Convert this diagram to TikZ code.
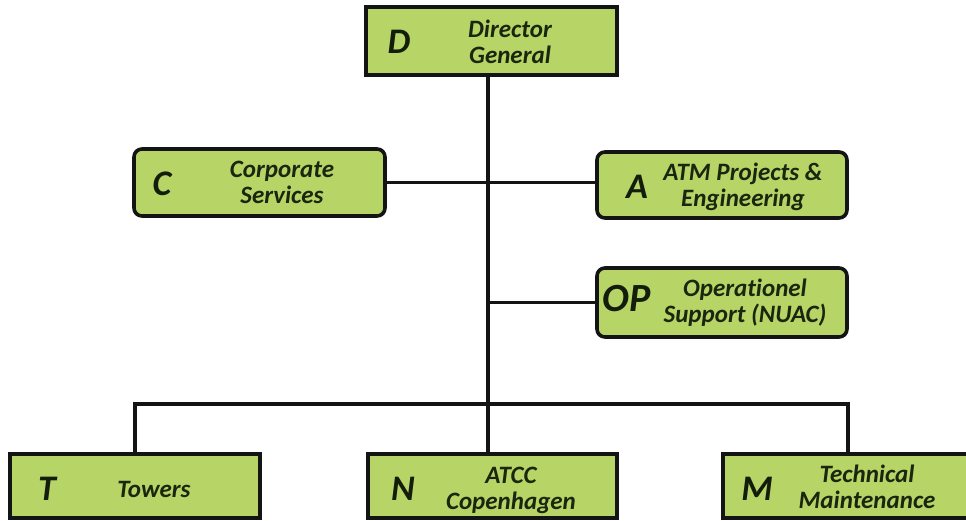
\documentclass[tikz,border=0pt]{standalone}
\usepackage{fontspec}
\setmainfont[Ligatures=NoCommon]{Carlito}
\begin{document}
\begin{tikzpicture}[x=1pt,y=-1pt,
  unitfill/.style={fill={rgb,255:red,182;green,213;blue,102}},
  unitbox/.style={unitfill,draw=black!92,line width=3.6pt,inner sep=0pt,
    minimum width=250pt,minimum height=66pt},
  roundbox/.style={unitbox,rounded corners=8pt},
  letter/.style={font=\fontsize{36}{40}\selectfont\bfseries\itshape,
    text={rgb,255:red,20;green,28;blue,12},anchor=base,inner sep=0pt},
  unitname/.style={font=\fontsize{25}{26}\selectfont\bfseries\itshape,
    text={rgb,255:red,26;green,38;blue,14},align=center,inner sep=0pt},
  link/.style={draw=black!92,line width=3.4pt}]
\useasboundingbox (0,0) rectangle (966,520);
\clip (0,0) rectangle (966,520);

% top management
\node[unitbox,minimum width=251pt,minimum height=68pt] (D) at (491.5,41) {};
\node[letter] (Dl) at (399,53) {D};
\node[unitname] (Dt) at (510,42) {Director\\General};

% staff units
\node[roundbox,minimum width=251pt,minimum height=67pt] (C) at (259.5,182.5) {};
\node[letter] (Cl) at (162,195) {C};
\node[unitname] (Ct) at (282,182.5) {Corporate\\Services};

\node[roundbox] (A) at (722,185) {};
\node[letter] (Al) at (637,198) {A};
\node[unitname] (At) at (743,187) {ATM Projects \&\\Engineering};

\node[roundbox,minimum height=69pt] (OP) at (722,302.5) {};
\node[letter,font=\fontsize{40}{44}\selectfont\bfseries\itshape] (OPl) at (627,311) {OP};
\node[unitname] (OPt) at (745,303) {Operationel\\Support (NUAC)};

% line units
\node[unitbox,minimum height=64pt] (T) at (135,486) {};
\node[letter] (Tl) at (47,500) {T};
\node[unitname,anchor=base] (Tt) at (154,497) {Towers};

\node[unitbox,minimum width=249pt,minimum height=64pt] (N) at (492.5,486) {};
\node[letter] (Nl) at (403,500) {N};
\node[unitname] (Nt) at (511,490) {ATCC\\Copenhagen};

\node[unitbox,minimum height=64pt] (M) at (848,486) {};
\node[letter] (Ml) at (757,500) {M};
\node[unitname] (Mt) at (867,487) {Technical\\Maintenance};

% structural coordinates of the connectors
\coordinate (trunk) at (488,0);
\coordinate (bus) at (0,404);

% connectors
\draw[link] (D.south -| trunk) -- (N.north -| trunk);
\draw[link] (C.east) -- (C.east -| A.west);
\draw[link] (trunk |- OP.west) -- (OP.west);
\draw[link] (T.north) |- (bus -| N.north) -| (M.north);
\end{tikzpicture}
\end{document}
